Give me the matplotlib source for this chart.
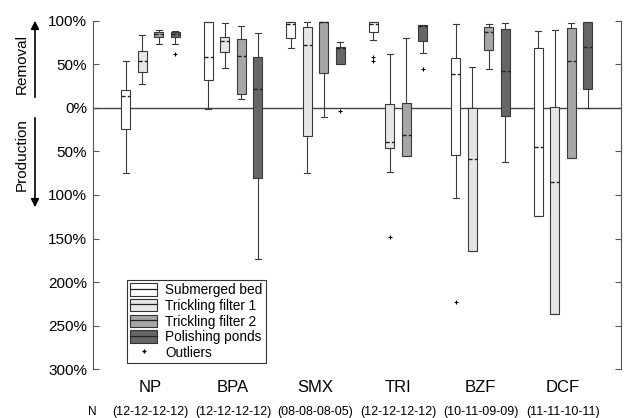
import matplotlib.pyplot as plt
import matplotlib as mpl
import numpy as np
from matplotlib.patches import Patch
from matplotlib.lines import Line2D
from matplotlib.legend_handler import HandlerTuple
from matplotlib.transforms import blended_transform_factory

mpl.rcParams['font.family'] = ['Liberation Sans', 'DejaVu Sans']

compounds = ['NP', 'BPA', 'SMX', 'TRI', 'BZF', 'DCF']
n_labels = ['(12-12-12-12)', '(12-12-12-12)', '(08-08-08-05)', '(12-12-12-12)', '(10-11-09-09)', '(11-11-10-11)']
units = ['Submerged bed', 'Trickling filter 1', 'Trickling filter 2', 'Polishing ponds']
unit_colors = ['#ffffff', '#e6e6e6', '#a6a6a6', '#666666']

# removal (%) per unit and compound: [whislo, q1, med, q3, whishi]
# positive = removal, negative = production
sb = [[-75, -24, 14, 21, 54], [-1.5, 32, 58, 98.5, 98.5], [69, 80, 97, 98.5, 98.5],
      [78, 87, 96, 98.5, 99], [-103, -54, 39, 57, 96], [-124, -124, -45, 69, 88.5]]
tf1 = [[27, 41, 54, 65.5, 84], [46, 64, 77, 82, 98], [-75, -32, 72, 93.5, 99],
       [-74, -46, -39, 4, 62], [-164, -164, -59, -0.4, 47], [-237, -237, -85, 1.5, 90]]
tf2 = [[74, 81, 85, 87, 90], [10, 16.5, 60, 79, 94.5], [-10, 40, 99, 99.2, 99.2],
       [-55.5, -55, -31, 6, 80], [45, 67, 87, 93.5, 96], [-57, -57, 54, 91.5, 98]]
pp = [[73.5, 81, 85, 87, 88.5], [-174, -80, 21.5, 58, 86.5], [51, 51, 69, 70, 76],
      [63.5, 77, 94.5, 95.5, 95.5], [-62, -9.6, 42.5, 90.5, 98], [-0.4, 22, 70.5, 98.5, 99]]
outliers = {
    'Submerged bed': [[], [], [], [58, 53.5], [-222.5], []],
    'Trickling filter 1': [[], [], [], [-148], [], []],
    'Trickling filter 2': [[], [], [], [], [], []],
    'Polishing ponds': [[62], [], [-3.5], [44.5], [], []],
}
unit_data = [sb, tf1, tf2, pp]

fig = plt.figure(figsize=(6.27, 4.18), dpi=100)
ax = fig.add_axes([0.148, 0.117, 0.842, 0.833])

offsets = [-0.3, -0.1, 0.1, 0.3]
xpos = np.arange(1, len(compounds) + 1)
for u, (name, data) in enumerate(zip(units, unit_data)):
    stats = []
    for c, row in enumerate(data):
        stats.append({'whislo': row[0], 'q1': row[1], 'med': row[2], 'q3': row[3],
                      'whishi': row[4], 'fliers': outliers[name][c]})
    ax.bxp(stats, positions=xpos + offsets[u], widths=0.11, patch_artist=True,
           boxprops=dict(facecolor=unit_colors[u], edgecolor='#3a3a3a', linewidth=0.8),
           medianprops=dict(color='#222222', linewidth=1.0, linestyle=(0, (3, 1.5))),
           whiskerprops=dict(color='#3a3a3a', linewidth=0.8),
           capprops=dict(color='#3a3a3a', linewidth=0.8),
           flierprops=dict(marker='+', markersize=3.5, markeredgecolor='black', markeredgewidth=0.8),
           capwidths=0.07, zorder=3)

ax.axhline(0, color='#444444', linewidth=1, zorder=2)
ax.set_xlim(0.3, 6.7)
ax.set_ylim(-300, 100)
yt = [100, 50, 0, -50, -100, -150, -200, -250, -300]
ax.set_yticks(yt)
ax.set_yticklabels(['%d%%' % abs(v) for v in yt], fontsize=11)
ax.set_xticks(xpos)
ax.set_xticklabels(compounds, fontsize=12)
ax.tick_params(axis='x', length=0, pad=8)
ax.tick_params(axis='y', direction='in', length=4, color='#555555', right=True, pad=4)
for s in ['top', 'bottom']:
    ax.spines[s].set_visible(False)
for s in ['left', 'right']:
    ax.spines[s].set_color('#555555')

trans = blended_transform_factory(ax.transData, fig.transFigure)
for x, t in zip(xpos, n_labels):
    ax.text(x, 0.014, t, transform=trans, ha='center', va='center', fontsize=9)
fig.text(92 / 627, 0.014, 'N', ha='center', va='center', fontsize=8.5)

# removal / production arrows
ax.annotate('', xy=(35, 400), xytext=(35, 318), xycoords='figure pixels',
            arrowprops=dict(arrowstyle='-|>', color='black', lw=1.2, mutation_scale=12))
ax.annotate('', xy=(35, 208), xytext=(35, 303), xycoords='figure pixels',
            arrowprops=dict(arrowstyle='-|>', color='black', lw=1.2, mutation_scale=12))
fig.text(22 / 627, 354 / 418, 'Removal', rotation=90, ha='center', va='center', fontsize=11)
fig.text(22 / 627, 263 / 418, 'Production', rotation=90, ha='center', va='center', fontsize=11)

handles = []
for u in range(4):
    handles.append((Patch(facecolor=unit_colors[u], edgecolor='#333333', linewidth=0.8),
                    Line2D([], [], color='#222222', linewidth=0.9)))
handles.append(Line2D([], [], marker='+', color='black', linestyle='none', markersize=3.5))
leg = ax.legend(handles, units + ['Outliers'], loc='lower left', bbox_to_anchor=(0.064, 0.017),
                fontsize=9.8, frameon=True, fancybox=False, edgecolor='black', handlelength=2.0,
                handleheight=1.0, handletextpad=0.6, borderpad=0.25, labelspacing=0.12,
                borderaxespad=0, handler_map={tuple: HandlerTuple(ndivide=1, pad=0)})
leg.get_frame().set_linewidth(0.8)

fig.savefig('out.png', dpi=100)
